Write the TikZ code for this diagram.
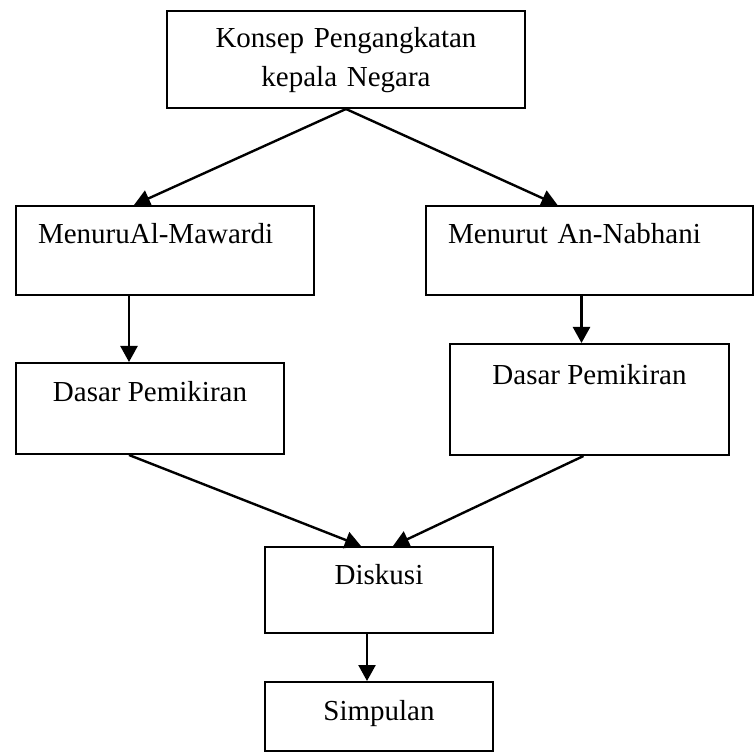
\documentclass[tikz,border=0pt]{standalone}
\usepackage{fontspec}
\setmainfont{Liberation Serif}
\usetikzlibrary{arrows.meta}

\begin{document}
\begin{tikzpicture}[x=0.5pt,y=-0.5pt,
		box/.style={draw,line width=1pt,inner sep=0pt,anchor=north west,font=\fontsize{14.5pt}{19.5pt}\selectfont},
		arr/.style={line width=1.2pt,-{Triangle[length=8pt,width=8.5pt]}}]
			\useasboundingbox (0,0) rectangle (754,753);
			\node(konsep)	[box,text width=179pt,align=center,text height=18.5pt,text depth=30pt] at (166,10) {Konsep Pengangkatan\\kepala Negara};
			\node(mawardi)	[box,inner xsep=11pt,text width=127pt,align=left,text height=19pt,text depth=25.5pt] at (15,205) {MenuruAl-Mawardi};
			\node(nabhani)	[box,inner xsep=11pt,text width=141.5pt,align=left,text height=19pt,text depth=25.5pt] at (425,205) {Menurut An-Nabhani};
			\node(dasarM)	[box,minimum width=134pt,text height=19pt,text depth=26.5pt] at (15,362) {Dasar Pemikiran};
			\node(dasarN)	[box,minimum width=139.5pt,text height=20pt,text depth=35.5pt] at (449,343) {Dasar Pemikiran};
			\node(diskusi)	[box,minimum width=114pt,text height=18.5pt,text depth=24.5pt] at (264,546) {Diskusi};
			\node(simpulan)	[box,minimum width=114pt,text height=19pt,text depth=15.5pt] at (264,681) {Simpulan};

			\draw[arr] (konsep.south) -- ([xshift=-15.5pt]mawardi.north);
			\draw[arr] (konsep.south) -- ([xshift=-16pt]nabhani.north);
			\draw[arr] ([xshift=-18pt]mawardi.south) -- ([xshift=-18pt]mawardi.south |- dasarM.north);
			\draw[arr] ([xshift=-4pt]nabhani.south) -- ([xshift=-4pt]nabhani.south |- dasarN.north);
			\draw[arr] ([xshift=-10.5pt]dasarM.south) -- ([xshift=-9pt]diskusi.north);
			\draw[arr] ([xshift=-3pt]dasarN.south) -- ([xshift=7pt]diskusi.north);
			\draw[arr] ([xshift=-6pt]diskusi.south) -- ([xshift=-6pt]diskusi.south |- simpulan.north);
		\end{tikzpicture}
\end{document}
